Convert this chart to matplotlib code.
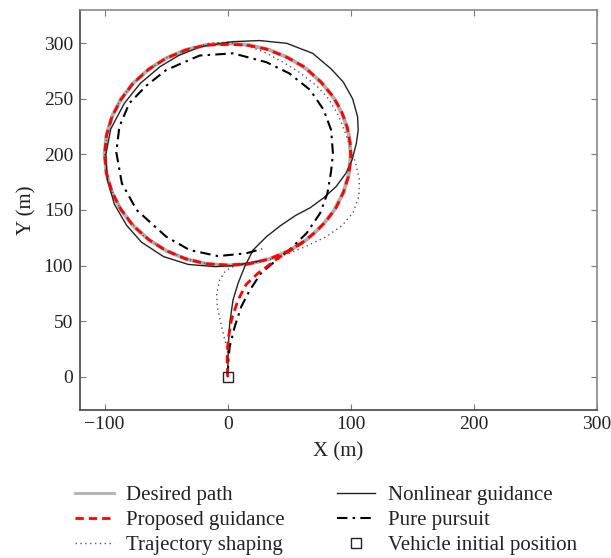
import matplotlib
matplotlib.use("Agg")
import matplotlib.pyplot as plt
from matplotlib.lines import Line2D

plt.rcParams['font.family'] = ['Liberation Serif', 'DejaVu Serif']
plt.rcParams['font.size'] = 14

# Desired path: circle, centre (0, 200), radius 100 (points read every 10 deg)
desired_x = [100, 98.5, 94.0, 86.6, 76.6, 64.3, 50, 34.2, 17.4, 0,
             -17.4, -34.2, -50, -64.3, -76.6, -86.6, -94.0, -98.5, -100,
             -98.5, -94.0, -86.6, -76.6, -64.3, -50, -34.2, -17.4, 0,
             17.4, 34.2, 50, 64.3, 76.6, 86.6, 94.0, 98.5, 100]
desired_y = [200, 217.4, 234.2, 250, 264.3, 276.6, 286.6, 294, 298.5, 300,
             298.5, 294, 286.6, 276.6, 264.3, 250, 234.2, 217.4, 200,
             182.6, 165.8, 150, 135.7, 123.4, 113.4, 106, 101.5, 100,
             101.5, 106, 113.4, 123.4, 135.7, 150, 165.8, 182.6, 200]

# Proposed guidance
prop_x = [0, -0.5, 0.3, 3, 8.4, 15, 24, 33, 40, 50, 60, 70, 80, 88, 94, 98,
          100, 99.5, 97, 92, 85, 75, 62, 47, 31, 15, 0, -17, -34, -50, -64,
          -77, -87, -94, -98.5, -100, -98.5, -94, -87, -77, -64, -50, -34,
          -17, 0, 17, 34, 50, 64]
prop_y = [0, 15, 33, 51, 69, 83, 92.5, 100, 106, 113, 120, 129, 140, 152,
          166, 180, 195, 210, 225, 240, 253, 266, 279, 288, 295, 298.5, 299,
          298.5, 294, 286.6, 276.8, 264, 249, 234, 217, 200, 183, 166, 151,
          136, 123.2, 113.4, 106, 101.5, 100.5, 101.5, 106, 113.4, 123.2]

# Trajectory shaping
shape_x = [0, 1, -1, -5, -8.5, -9, -6.5, -2, 5, 20, 35, 50, 65, 80, 93, 102,
           106.5, 107, 104, 100, 96, 90, 82, 72, 58, 45, 30, 15, 0, -15, -30,
           -50, -70, -87, -97, -100, -97, -87, -70, -50, -25, 0, 20]
shape_y = [0, 15, 27, 45, 63, 75, 87, 95, 99.5, 102, 106, 111, 118, 126, 136,
           148, 162, 177, 192, 205, 218, 235, 250, 262, 274, 283, 292, 298,
           301, 300, 296, 287, 272, 250, 225, 200, 175, 150, 128, 113, 103,
           100, 102]

# Nonlinear guidance
nonlin_x = [0, 0.3, 0.5, 1.6, 4.3, 8.4, 13.8, 20.6, 31.5, 43, 55, 67, 78, 88,
            96, 101, 104.5, 106, 105.5, 101.5, 94, 84, 69, 48, 26, 4, -22,
            -40, -55, -71, -84, -95, -99, -98, -92, -82, -70, -52, -32, -10,
            5, 25]
nonlin_y = [0, 15, 27, 48, 69, 84, 99, 114, 126, 136, 145, 152, 161, 171,
            183, 195, 210, 222, 234, 250, 265, 277, 291, 300, 302.5, 301.5,
            297, 289, 279, 264, 246, 223, 200, 178, 155, 136, 121, 108, 101,
            99, 100, 104]

# Pure pursuit
pursuit_x = [0, 0.5, 1.6, 5.7, 11, 18, 27, 39.6, 50, 64, 75, 81, 84, 85.5,
             84, 78, 67, 50, 31.5, 4.3, -22.8, -50, -66, -80, -88, -90.5,
             -86, -74, -50, -31, -8, 15, 28]
pursuit_y = [0, 15, 27, 45, 63, 78, 93, 105, 114, 129, 147, 165, 185, 201,
             222, 240, 258, 273, 283, 291, 289, 276, 262, 246, 225, 202, 174,
             150, 126, 114, 108.5, 111, 115]

start_x = [0]
start_y = [0]

fig = plt.figure(figsize=(6.11, 5.58), dpi=100)
ax = fig.add_axes([80/611, 1-410/558, 517/611, 400/558])

ax.plot(desired_x, desired_y, color='#b0b0b0', lw=2.8, solid_joinstyle='round')
ax.plot(shape_x, shape_y, color='#555555', lw=1.0, linestyle=(0, (1, 2.5)))
ax.plot(nonlin_x, nonlin_y, color='#222222', lw=1.0)
ax.plot(pursuit_x, pursuit_y, color='black', lw=1.5,
        linestyle=(0, (5, 2.5, 1.2, 2.5)))
ax.plot(prop_x, prop_y, color='red', lw=2.0, linestyle=(0, (3, 1.8)))
ax.plot(start_x, start_y, marker='s', ms=7, mfc='none', mec='#222222',
        mew=1.0, linestyle='none')

ax.set_xlim(-120, 300)
ax.set_ylim(-30, 330)
ax.set_xticks([-100, 0, 100, 200, 300])
ax.set_yticks([0, 50, 100, 150, 200, 250, 300])
ax.set_xticklabels(['\u2212100', '0', '100', '200', '300'])
ax.tick_params(direction='in', top=True, right=True, length=4,
               width=0.8, color='#777777', labelcolor='#222222')
ax.tick_params(axis='x', pad=4)
ax.tick_params(axis='y', pad=5)
for s in ['top', 'right']:
    ax.spines[s].set_color('#888888')
    ax.spines[s].set_linewidth(1.2)
for s in ['left', 'bottom']:
    ax.spines[s].set_color('#444444')
    ax.spines[s].set_linewidth(1.2)
ax.set_xlabel('X (m)', color='#222222', fontsize=15, labelpad=7)
ax.set_ylabel('Y (m)', color='#222222', fontsize=15, labelpad=5)

handles = [
    Line2D([], [], color='#b0b0b0', lw=2.0),
    Line2D([], [], color='red', lw=2.0, linestyle=(0, (3, 1.8))),
    Line2D([], [], color='#555555', lw=1.0, linestyle=(0, (1, 2.5))),
    Line2D([], [], color='#222222', lw=1.0),
    Line2D([], [], color='black', lw=1.5, linestyle=(0, (5, 2.5, 1.2, 2.5))),
    Line2D([], [], marker='s', ms=7, mfc='none', mec='#222222', mew=1.0,
           linestyle='none'),
]
labels = ['Desired path', 'Proposed guidance', 'Trajectory shaping',
          'Nonlinear guidance', 'Pure pursuit', 'Vehicle initial position']
fig.legend(handles, labels, ncol=2, loc='upper left',
           bbox_to_anchor=(0.092, 0.163), frameon=False,
           handlelength=1.85, handletextpad=0.6, columnspacing=2.5,
           labelspacing=0.25, fontsize=15, labelcolor='#222222')

fig.savefig('out.png', dpi=100)
